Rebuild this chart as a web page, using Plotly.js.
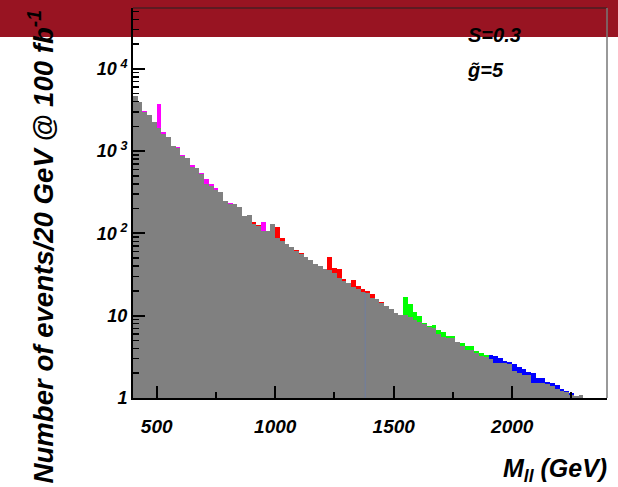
<!DOCTYPE html>
<html>
<head>
<meta charset="utf-8">
<script src="https://cdn.plot.ly/plotly-3.0.1.min.js"></script>
<style>
  html, body { margin: 0; padding: 0; background: #ffffff; }
  #chart { width: 618px; height: 487px; }
</style>
</head>
<body>
<div id="chart"></div>
<script>
// Dilepton invariant mass, 20 GeV bins starting at 400 GeV
const massStart = 400;
const binWidth = 20;

// Standard Model background per bin (events / 20 GeV @ 100 fb^-1)
const background = [
  4700, 3920, 2960, 2750, 2280, 1890, 1610, 1470, 1150, 1080,
  865, 817, 636, 618, 523, 398, 377, 337, 318, 250,
  226, 226, 211, 164, 167, 130, 123, 108, 108, 130,
  88.7, 81.6, 74.3, 69, 61, 56.7, 52, 47.1, 42.9, 40,
  36.6, 35.9, 32.8, 28.5, 26.6, 24.7, 22.5, 20.9, 19.6, 19.1,
  16.3, 15.8, 14.1, 13.2, 12.0, 10.9, 10.3, 10.2, 9.7, 8.9,
  8.5, 7.85, 7.35, 7.03, 5.94, 5.56, 5.3, 5.3, 4.83, 4.32,
  3.83, 3.83, 3.49, 3.27, 3.18, 2.98, 2.7, 2.64, 2.64, 2.57,
  2.13, 2.0, 1.90, 1.90, 1.51, 1.51, 1.51, 1.48, 1.40, 1.27,
  1.22, 1.18, 1.08, 1.06, 1.08
];

// Background plus resonance signal per bin
const total = [
  4700, 3920, 3100, 2750, 2280, 3730, 1720, 1470, 1150, 1130,
  897, 817, 678, 618, 547, 458, 398, 356, 318, 250,
  236, 226, 211, 164, 167, 139, 126, 138, 108, 130,
  121, 88.7, 74.3, 69, 62.8, 58, 52, 47.1, 42.9, 40,
  36.6, 52, 37.7, 36.6, 27.7, 24.7, 27.2, 23, 20.9, 20.1,
  18.4, 15.8, 14.5, 13.2, 12.0, 10.9, 10.3, 16.7, 13.9, 11.2,
  9.9, 8.1, 7.6, 7.7, 6.7, 6.4, 5.7, 5.7, 4.83, 4.62,
  4.28, 4.28, 3.76, 3.49, 3.33, 3.33, 3.25, 3.07, 2.82, 2.76,
  2.59, 2.40, 2.23, 2.09, 2.03, 1.77, 1.77, 1.58, 1.51, 1.44,
  1.27, 1.22, 1.16, 1.07, 1.08
];

// Which resonance the excess in each bin belongs to
const resonance = [
  1, 1, 1, 1, 1, 1, 1, 1, 1, 1,
  1, 1, 1, 1, 1, 1, 1, 1, 1, 1,
  1, 1, 1, 1, 1, 2, 2, 1, 2, 2,
  2, 2, 2, 2, 2, 2, 2, 2, 2, 2,
  2, 2, 2, 2, 2, 2, 2, 2, 2, 2,
  2, 2, 2, 2, 2, 2, 2, 3, 3, 3,
  3, 3, 3, 3, 3, 3, 3, 3, 3, 3,
  3, 3, 3, 3, 3, 4, 4, 4, 4, 4,
  4, 4, 4, 4, 4, 4, 4, 4, 4, 4,
  4, 4, 4, 4, 4
];
const resonanceColours = { 1: '#ff00ff', 2: '#ff0000', 3: '#00ff00', 4: '#0000ff' };

// Bin where an extra histogram edge line is drawn
const edgeBin = 49;

const xTicks = [500, 1000, 1500, 2000];
const xMinorTicks = [750, 1250, 1750, 2250];
const yTicks = [1, 10, 100, 1000, 10000];
const yTickText = ['1', '10', '10\u2009<sup>2</sup>', '10\u2009<sup>3</sup>', '10\u2009<sup>4</sup>'];

const centres = background.map((_, i) => massStart + binWidth * (i + 0.5));

const yMinor = [];
for (let d = 1; d <= 10000; d *= 10) {
  for (let m = 2; m <= 9; m++) yMinor.push(m * d);
}

const font = { family: 'Liberation Sans, Arial, sans-serif', color: '#000000', weight: 'bold', style: 'italic' };

const traces = [];
// signal + background, one colour per resonance
[1, 2, 3, 4].forEach(k => {
  const xs = [], ys = [];
  total.forEach((v, i) => { if (resonance[i] === k) { xs.push(centres[i]); ys.push(v); } });
  traces.push({
    type: 'bar', x: xs, y: ys, width: binWidth,
    marker: { color: resonanceColours[k], line: { width: 0 } },
    hoverinfo: 'skip', showlegend: false
  });
});
// background drawn over the totals
traces.push({
  type: 'bar', x: centres, y: background, width: binWidth,
  marker: { color: '#808080', line: { width: 0 } },
  hoverinfo: 'skip', showlegend: false
});
// thin histogram edge
const edgeX = massStart + binWidth * edgeBin;
traces.push({
  type: 'scatter', mode: 'lines',
  x: [edgeX, edgeX],
  y: [yTicks[0], Math.min(background[edgeBin - 1], background[edgeBin])],
  line: { color: '#6f7da0', width: 1 },
  hoverinfo: 'skip', showlegend: false
});

const layout = {
  width: 618, height: 487,
  margin: { l: 133, r: 11, t: 8, b: 89, pad: 0 },
  paper_bgcolor: '#ffffff',
  plot_bgcolor: 'rgba(0,0,0,0)',
  barmode: 'overlay', bargap: 0,
  showlegend: false,
  xaxis: {
    range: [400, 2400],
    tickmode: 'array', tickvals: xTicks,
    ticks: 'inside', ticklen: 12, tickwidth: 2, tickcolor: '#000000',
    minor: { tickmode: 'array', tickvals: xMinorTicks, ticks: 'inside', ticklen: 6, tickwidth: 2, tickcolor: '#000000', showgrid: false },
    showline: true, linecolor: '#000000', linewidth: 2,
    showgrid: false, zeroline: false,
    ticklabelstandoff: 10,
    tickfont: Object.assign({ size: 19 }, font)
  },
  yaxis: {
    type: 'log',
    range: [0, 4.739],
    tickmode: 'array', tickvals: yTicks, ticktext: yTickText,
    ticks: 'inside', ticklen: 12, tickwidth: 2, tickcolor: '#000000',
    minor: { tickmode: 'array', tickvals: yMinor, ticks: 'inside', ticklen: 6, tickwidth: 1.5, tickcolor: '#000000', showgrid: false },
    showline: true, linecolor: '#000000', linewidth: 2,
    showgrid: false, zeroline: false,
    tickfont: Object.assign({ size: 18 }, font)
  },
  shapes: [
    // header band across the top of the canvas
    { type: 'rect', xref: 'paper', yref: 'paper', x0: -0.3, x1: 1.05, y0: 0.9256, y1: 1.05,
      fillcolor: '#981422', line: { width: 0 }, layer: 'below' },
    // thin top and right frame edges
    { type: 'line', xref: 'paper', yref: 'paper', x0: 0, x1: 1, y0: 1, y1: 1,
      line: { color: '#222222', width: 1 } },
    { type: 'line', xref: 'paper', yref: 'paper', x0: 1, x1: 1, y0: 0, y1: 1,
      line: { color: '#777777', width: 1.5 } }
  ],
  annotations: [
    { text: 'Number of events/20 GeV @ 100 fb<sup>-1</sup>', textangle: -90,
      xref: 'paper', yref: 'paper', x: -0.192, y: 1.0, xanchor: 'center', yanchor: 'top',
      showarrow: false, font: Object.assign({ size: 27.6 }, font) },
    { text: 'M<sub>ll</sub> (GeV)',
      xref: 'paper', yref: 'paper', x: 1.004, y: -0.138, xanchor: 'right', yanchor: 'top',
      showarrow: false, font: Object.assign({ size: 25 }, font) },
    { text: 'S=0.3',
      xref: 'paper', yref: 'paper', x: 0.703, y: 0.931, xanchor: 'left', yanchor: 'middle',
      showarrow: false, font: Object.assign({ size: 20 }, font) },
    { text: 'g\u0303=5',
      xref: 'paper', yref: 'paper', x: 0.701, y: 0.84, xanchor: 'left', yanchor: 'middle',
      showarrow: false, font: Object.assign({ size: 20 }, font) }
  ]
};

Plotly.newPlot('chart', traces, layout, { staticPlot: true, displayModeBar: false });
</script>
</body>
</html>
